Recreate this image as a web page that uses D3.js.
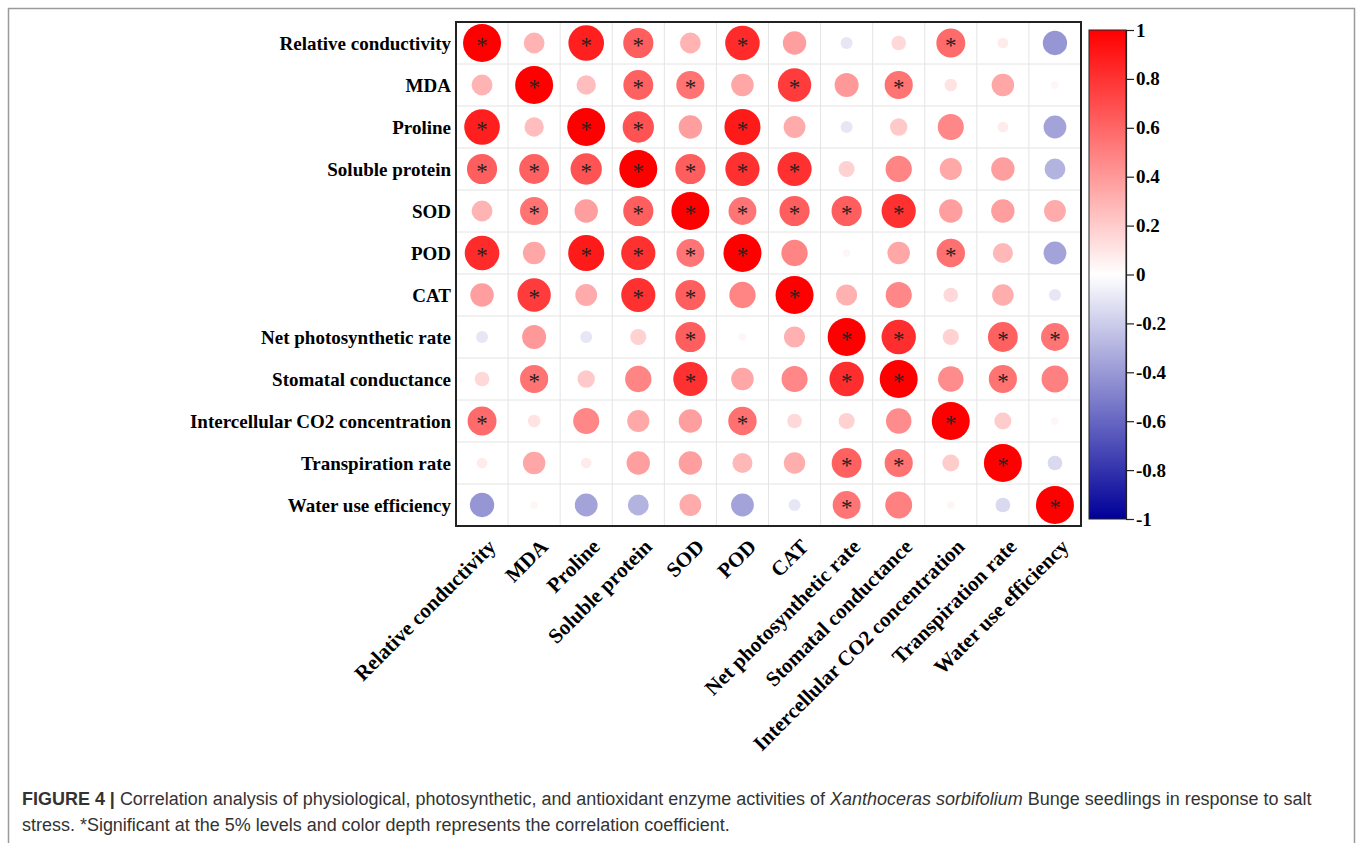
<!DOCTYPE html>
<html>
<head>
<meta charset="utf-8">
<script src="https://cdn.jsdelivr.net/npm/d3@7"></script>
<style>
  html, body { margin: 0; padding: 0; background: #ffffff; }
  svg { display: block; }
</style>
</head>
<body>
<svg id="chart" width="1360" height="843"></svg>
<script>
// ---------------- DATA ----------------
const variables = [
  "Relative conductivity", "MDA", "Proline", "Soluble protein", "SOD", "POD", "CAT",
  "Net photosynthetic rate", "Stomatal conductance", "Intercellular CO2 concentration",
  "Transpiration rate", "Water use efficiency"
];

// correlation coefficients, one row per variable (rows top to bottom, columns left to right)
const rowRelCond   = [ 1.00,  0.30,  0.88,  0.63,  0.30,  0.83,  0.38, -0.10,  0.15,  0.58,  0.08, -0.41];
const rowMDA       = [ 0.30,  1.00,  0.26,  0.62,  0.55,  0.35,  0.77,  0.40,  0.55,  0.11,  0.35,  0.04];
const rowProline   = [ 0.88,  0.26,  1.00,  0.68,  0.38,  0.90,  0.33, -0.10,  0.21,  0.47,  0.08, -0.36];
const rowSolProt   = [ 0.63,  0.62,  0.68,  1.00,  0.63,  0.81,  0.81,  0.18,  0.48,  0.34,  0.38, -0.30];
const rowSOD       = [ 0.30,  0.55,  0.38,  0.63,  1.00,  0.54,  0.63,  0.63,  0.81,  0.38,  0.38,  0.33];
const rowPOD       = [ 0.83,  0.35,  0.90,  0.81,  0.54,  1.00,  0.48,  0.04,  0.35,  0.56,  0.28, -0.36];
const rowCAT       = [ 0.38,  0.77,  0.33,  0.81,  0.63,  0.48,  1.00,  0.31,  0.47,  0.15,  0.32, -0.10];
const rowNetPhoto  = [-0.10,  0.40, -0.10,  0.18,  0.63,  0.04,  0.31,  1.00,  0.82,  0.18,  0.62,  0.54];
const rowStomatal  = [ 0.15,  0.55,  0.21,  0.48,  0.81,  0.35,  0.47,  0.82,  1.00,  0.45,  0.55,  0.50];
const rowCO2       = [ 0.58,  0.11,  0.47,  0.34,  0.38,  0.56,  0.15,  0.18,  0.45,  1.00,  0.20,  0.04];
const rowTranspir  = [ 0.08,  0.35,  0.08,  0.38,  0.38,  0.28,  0.32,  0.62,  0.55,  0.20,  1.00, -0.15];
const rowWUE       = [-0.41,  0.04, -0.36, -0.30,  0.33, -0.36, -0.10,  0.54,  0.50,  0.04, -0.15,  1.00];
const corr = [rowRelCond, rowMDA, rowProline, rowSolProt, rowSOD, rowPOD, rowCAT,
              rowNetPhoto, rowStomatal, rowCO2, rowTranspir, rowWUE];

// columns marked with "*" (significant at 5%) for each row
const significant = [
  [0, 2, 3, 5, 9],
  [1, 3, 4, 6, 8],
  [0, 2, 3, 5],
  [0, 1, 2, 3, 4, 5, 6],
  [1, 3, 4, 5, 6, 7, 8],
  [0, 2, 3, 4, 5, 9],
  [1, 3, 4, 6],
  [4, 7, 8, 10, 11],
  [1, 4, 7, 8, 10],
  [0, 5, 9],
  [7, 8, 10],
  [7, 11]
];

const colorbarTicks = [1, 0.8, 0.6, 0.4, 0.2, 0, -0.2, -0.4, -0.6, -0.8, -1];

const captionBold = "FIGURE 4 | ";
const captionLine1a = "Correlation analysis of physiological, photosynthetic, and antioxidant enzyme activities of ";
const captionItalic = "Xanthoceras sorbifolium";
const captionLine1b = " Bunge seedlings in response to salt";
const captionLine2 = "stress. *Significant at the 5% levels and color depth represents the correlation coefficient.";

// ---------------- LAYOUT ----------------
const svg = d3.select("#chart");
const grid = { left: 456, top: 22, right: 1081, bottom: 526 };
const serif = "'Liberation Serif', 'Times New Roman', serif";

// figure frame
svg.append("rect")
  .attr("x", 8.5).attr("y", 8.5)
  .attr("width", 1346).attr("height", 900)
  .attr("fill", "none").attr("stroke", "#9a9a9a").attr("stroke-width", 1.5);

const x = d3.scaleBand().domain(d3.range(variables.length)).range([grid.left, grid.right]).padding(0);
const y = d3.scaleBand().domain(d3.range(variables.length)).range([grid.top, grid.bottom]).padding(0);
const color = d3.scaleLinear().domain([-1, 0, 1]).range(["#000099", "#ffffff", "#ff0000"]).clamp(true);
const rad = d3.scaleSqrt().domain([0, 1]).range([0, 19]);

// cell grid lines
const gGrid = svg.append("g");
d3.range(1, variables.length).forEach(i => {
  gGrid.append("line")
    .attr("x1", x(i)).attr("x2", x(i)).attr("y1", grid.top).attr("y2", grid.bottom)
    .attr("stroke", "#e4e4e4").attr("stroke-width", 1);
  gGrid.append("line")
    .attr("x1", grid.left).attr("x2", grid.right).attr("y1", y(i)).attr("y2", y(i))
    .attr("stroke", "#e4e4e4").attr("stroke-width", 1);
});

// cells data
const cells = [];
corr.forEach((row, i) => row.forEach((v, j) => {
  cells.push({ i, j, v, sig: significant[i].includes(j) });
}));

const gCells = svg.append("g");
gCells.selectAll("circle").data(cells).join("circle")
  .attr("cx", d => x(d.j) + x.bandwidth() / 2)
  .attr("cy", d => y(d.i) + y.bandwidth() / 2)
  .attr("r", d => rad(Math.abs(d.v)))
  .attr("fill", d => color(d.v));

gCells.selectAll("text").data(cells.filter(d => d.sig)).join("text")
  .attr("x", d => x(d.j) + x.bandwidth() / 2)
  .attr("y", d => y(d.i) + y.bandwidth() / 2 + 10)
  .attr("text-anchor", "middle")
  .attr("font-family", serif)
  .attr("font-size", 23)
  .attr("fill", "#222")
  .text("*");

// outer border
svg.append("rect")
  .attr("x", grid.left).attr("y", grid.top)
  .attr("width", grid.right - grid.left).attr("height", grid.bottom - grid.top)
  .attr("fill", "none").attr("stroke", "#222").attr("stroke-width", 2);

// row labels
svg.append("g").selectAll("text").data(variables).join("text")
  .attr("x", grid.left - 5)
  .attr("y", (d, i) => y(i) + y.bandwidth() / 2)
  .attr("dy", "0.35em")
  .attr("text-anchor", "end")
  .attr("font-family", serif)
  .attr("font-weight", "bold")
  .attr("font-size", 19)
  .attr("fill", "#000")
  .text(d => d);

// column labels (rotated)
svg.append("g").selectAll("text").data(variables).join("text")
  .attr("transform", (d, i) => `translate(${x(i) + x.bandwidth() / 2 + 15},${grid.bottom + 22}) rotate(-45)`)
  .attr("text-anchor", "end")
  .attr("font-family", serif)
  .attr("font-weight", "bold")
  .attr("font-size", 21)
  .attr("fill", "#000")
  .text(d => d);

// colour bar
const cb = { x: 1089, w: 37, top: 30, bottom: 519 };
const defs = svg.append("defs");
const grad = defs.append("linearGradient").attr("id", "cbgrad")
  .attr("x1", 0).attr("y1", 1).attr("x2", 0).attr("y2", 0);
d3.range(0, 1.0001, 0.05).forEach(t => {
  grad.append("stop").attr("offset", t).attr("stop-color", color(-1 + 2 * t));
});
svg.append("rect")
  .attr("x", cb.x).attr("y", cb.top).attr("width", cb.w).attr("height", cb.bottom - cb.top)
  .attr("fill", "url(#cbgrad)").attr("stroke", "#222").attr("stroke-width", 1);

const cbScale = d3.scaleLinear().domain([-1, 1]).range([cb.bottom, cb.top]);
const cbAxis = d3.axisRight(cbScale).tickValues(colorbarTicks).tickSize(8).tickPadding(2)
  .tickFormat(d => String(d));
const gAxis = svg.append("g").attr("transform", `translate(${cb.x + cb.w},0)`).call(cbAxis);
gAxis.select(".domain").attr("stroke", "#222").attr("stroke-width", 1.2);
gAxis.selectAll(".tick line").attr("stroke", "#222").attr("stroke-width", 1.2);
gAxis.selectAll(".tick text")
  .attr("font-family", serif).attr("font-weight", "bold").attr("font-size", 19).attr("fill", "#000");

// caption
const sans = "'Liberation Sans', Arial, Helvetica, sans-serif";
const cap1 = svg.append("text").attr("x", 22).attr("y", 805)
  .attr("font-family", sans).attr("font-size", 15.5).attr("fill", "#333");
cap1.append("tspan").attr("font-weight", "bold").text(captionBold);
cap1.append("tspan").text(captionLine1a);
cap1.append("tspan").attr("font-style", "italic").text(captionItalic);
cap1.append("tspan").text(captionLine1b);
const cap2 = svg.append("text").attr("x", 22).attr("y", 831)
  .attr("font-family", sans).attr("font-size", 15.5).attr("fill", "#333")
  .text(captionLine2);
// fit caption width to the reference line length
const target = 1290;
const len = cap1.node().getComputedTextLength();
if (len > 0) {
  const fs = 15.5 * target / len;
  cap1.attr("font-size", fs);
  cap2.attr("font-size", fs);
}
</script>
</body>
</html>
